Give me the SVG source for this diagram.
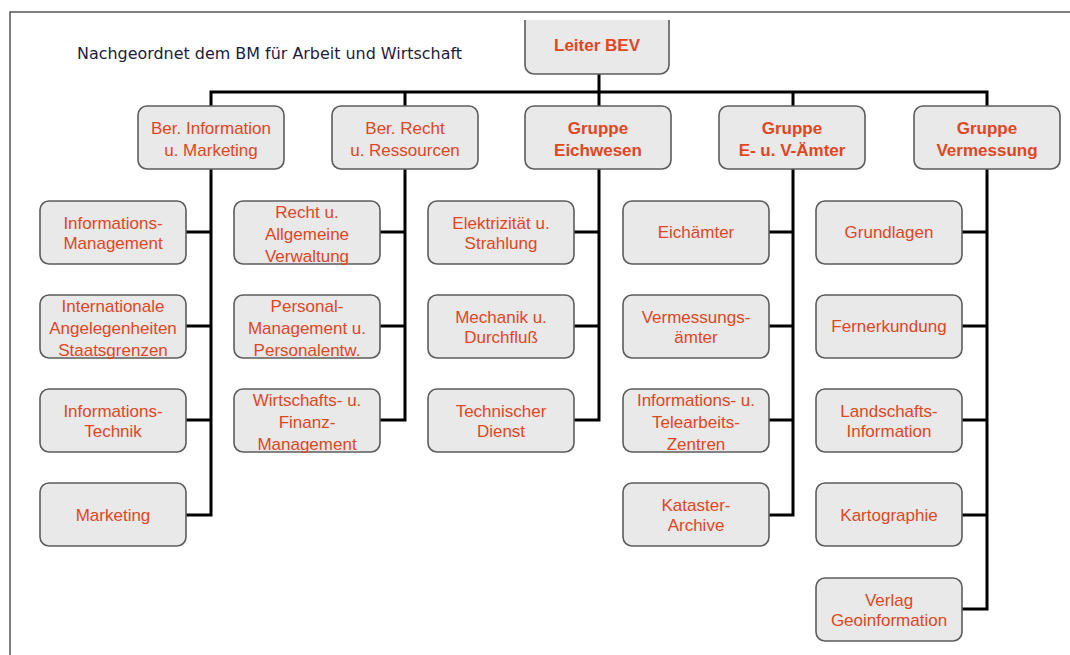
<svg xmlns="http://www.w3.org/2000/svg" width="1070" height="655" viewBox="0 0 1070 655">
  <style>
    .box { fill: #e9e9e9; stroke: #5c5c5c; stroke-width: 1.6; }
    .t { font-family: "Liberation Sans", Arial, sans-serif; font-size: 17px; fill: #e2461f; text-anchor: middle; }
    .b { font-weight: bold; }
    .conn { fill: none; stroke: #000; stroke-width: 3; stroke-linejoin: miter; stroke-linecap: square; }
    .title { font-family: "DejaVu Sans", "Open Sans", sans-serif; font-size: 15px; fill: #1c1c3c; }
  </style>
  <defs>
    <clipPath id="frameClip"><rect x="0" y="20" width="1070" height="635"/></clipPath>
  </defs>
  <rect width="1070" height="655" fill="#fff"/>
  <!-- page frame -->
  <rect x="10" y="12" width="1080" height="660" fill="none" stroke="#555" stroke-width="1.5"/>
  <text class="title" x="77" y="59" textLength="385" lengthAdjust="spacingAndGlyphs">Nachgeordnet dem BM für Arbeit und Wirtschaft</text>

  <!-- connectors -->
  <g id="connectors" class="conn">
    <path d="M599 74 V92 M211 92 H987 M211 92 V106 M405 92 V106 M599 92 V106 M793 92 V106 M987 92 V106"/>
    <path d="M211 169 V515 H186 M186 232 H211 M186 326 H211 M186 420 H211"/>
    <path d="M405 169 V420 H380 M380 232 H405 M380 326 H405"/>
    <path d="M599 169 V420 H575 M575 232 H599 M575 326 H599"/>
    <path d="M793 169 V515 H769 M769 232 H793 M769 326 H793 M769 420 H793"/>
    <path d="M987 169 V609 H962 M962 232 H987 M962 326 H987 M962 420 H987 M962 515 H987"/>
  </g>

  <!-- top -->
  <g id="leiter" clip-path="url(#frameClip)">
    <rect class="box" x="525" y="0" width="144" height="74" rx="9"/>
    <text class="t b" x="597" y="51">Leiter BEV</text>
  </g>

  <!-- departments -->
  <g id="ber-info">
    <rect class="box" x="138" y="106" width="146" height="63" rx="9"/>
    <text class="t" x="211" y="134">Ber. Information</text>
    <text class="t" x="211" y="156">u. Marketing</text>
  </g>
  <g id="ber-recht">
    <rect class="box" x="332" y="106" width="146" height="63" rx="9"/>
    <text class="t" x="405" y="134">Ber. Recht</text>
    <text class="t" x="405" y="156">u. Ressourcen</text>
  </g>
  <g id="gruppe-eichwesen">
    <rect class="box" x="525" y="106" width="146" height="63" rx="9"/>
    <text class="t b" x="598" y="134">Gruppe</text>
    <text class="t b" x="598" y="156">Eichwesen</text>
  </g>
  <g id="gruppe-ev-aemter">
    <rect class="box" x="719" y="106" width="146" height="63" rx="9"/>
    <text class="t b" x="792" y="134">Gruppe</text>
    <text class="t b" x="792" y="156">E- u. V-Ämter</text>
  </g>
  <g id="gruppe-vermessung">
    <rect class="box" x="914" y="106" width="146" height="63" rx="9"/>
    <text class="t b" x="987" y="134">Gruppe</text>
    <text class="t b" x="987" y="156">Vermessung</text>
  </g>

  <!-- column 1 -->
  <g id="informations-management">
    <rect class="box" x="40" y="201" width="146" height="63" rx="9"/>
    <text class="t" x="113" y="229">Informations-</text>
    <text class="t" x="113" y="249">Management</text>
  </g>
  <g id="internationale">
    <rect class="box" x="40" y="295" width="146" height="63" rx="9"/>
    <text class="t" x="113" y="312">Internationale</text>
    <text class="t" x="113" y="334">Angelegenheiten</text>
    <text class="t" x="113" y="356">Staatsgrenzen</text>
  </g>
  <g id="informations-technik">
    <rect class="box" x="40" y="389" width="146" height="63" rx="9"/>
    <text class="t" x="113" y="417">Informations-</text>
    <text class="t" x="113" y="437">Technik</text>
  </g>
  <g id="marketing">
    <rect class="box" x="40" y="483" width="146" height="63" rx="9"/>
    <text class="t" x="113" y="521">Marketing</text>
  </g>

  <!-- column 2 -->
  <g id="recht-verwaltung">
    <rect class="box" x="234" y="201" width="146" height="63" rx="9"/>
    <text class="t" x="307" y="218">Recht u.</text>
    <text class="t" x="307" y="240">Allgemeine</text>
    <text class="t" x="307" y="262">Verwaltung</text>
  </g>
  <g id="personal">
    <rect class="box" x="234" y="295" width="146" height="63" rx="9"/>
    <text class="t" x="307" y="312">Personal-</text>
    <text class="t" x="307" y="334">Management u.</text>
    <text class="t" x="307" y="356">Personalentw.</text>
  </g>
  <g id="wirtschaft-finanz">
    <rect class="box" x="234" y="389" width="146" height="63" rx="9"/>
    <text class="t" x="307" y="406">Wirtschafts- u.</text>
    <text class="t" x="307" y="428">Finanz-</text>
    <text class="t" x="307" y="450">Management</text>
  </g>

  <!-- column 3 -->
  <g id="elektrizitaet">
    <rect class="box" x="428" y="201" width="146" height="63" rx="9"/>
    <text class="t" x="501" y="229">Elektrizität u.</text>
    <text class="t" x="501" y="249">Strahlung</text>
  </g>
  <g id="mechanik">
    <rect class="box" x="428" y="295" width="146" height="63" rx="9"/>
    <text class="t" x="501" y="323">Mechanik u.</text>
    <text class="t" x="501" y="343">Durchfluß</text>
  </g>
  <g id="technischer-dienst">
    <rect class="box" x="428" y="389" width="146" height="63" rx="9"/>
    <text class="t" x="501" y="417">Technischer</text>
    <text class="t" x="501" y="437">Dienst</text>
  </g>

  <!-- column 4 -->
  <g id="eichaemter">
    <rect class="box" x="623" y="201" width="146" height="63" rx="9"/>
    <text class="t" x="696" y="238">Eichämter</text>
  </g>
  <g id="vermessungsaemter">
    <rect class="box" x="623" y="295" width="146" height="63" rx="9"/>
    <text class="t" x="696" y="323">Vermessungs-</text>
    <text class="t" x="696" y="343">ämter</text>
  </g>
  <g id="telearbeit">
    <rect class="box" x="623" y="389" width="146" height="63" rx="9"/>
    <text class="t" x="696" y="406">Informations- u.</text>
    <text class="t" x="696" y="428">Telearbeits-</text>
    <text class="t" x="696" y="450">Zentren</text>
  </g>
  <g id="kataster-archive">
    <rect class="box" x="623" y="483" width="146" height="63" rx="9"/>
    <text class="t" x="696" y="511">Kataster-</text>
    <text class="t" x="696" y="531">Archive</text>
  </g>

  <!-- column 5 -->
  <g id="grundlagen">
    <rect class="box" x="816" y="201" width="146" height="63" rx="9"/>
    <text class="t" x="889" y="238">Grundlagen</text>
  </g>
  <g id="fernerkundung">
    <rect class="box" x="816" y="295" width="146" height="63" rx="9"/>
    <text class="t" x="889" y="332">Fernerkundung</text>
  </g>
  <g id="landschaftsinformation">
    <rect class="box" x="816" y="389" width="146" height="63" rx="9"/>
    <text class="t" x="889" y="417">Landschafts-</text>
    <text class="t" x="889" y="437">Information</text>
  </g>
  <g id="kartographie">
    <rect class="box" x="816" y="483" width="146" height="63" rx="9"/>
    <text class="t" x="889" y="521">Kartographie</text>
  </g>
  <g id="verlag">
    <rect class="box" x="816" y="578" width="146" height="63" rx="9"/>
    <text class="t" x="889" y="606">Verlag</text>
    <text class="t" x="889" y="626">Geoinformation</text>
  </g>
</svg>
